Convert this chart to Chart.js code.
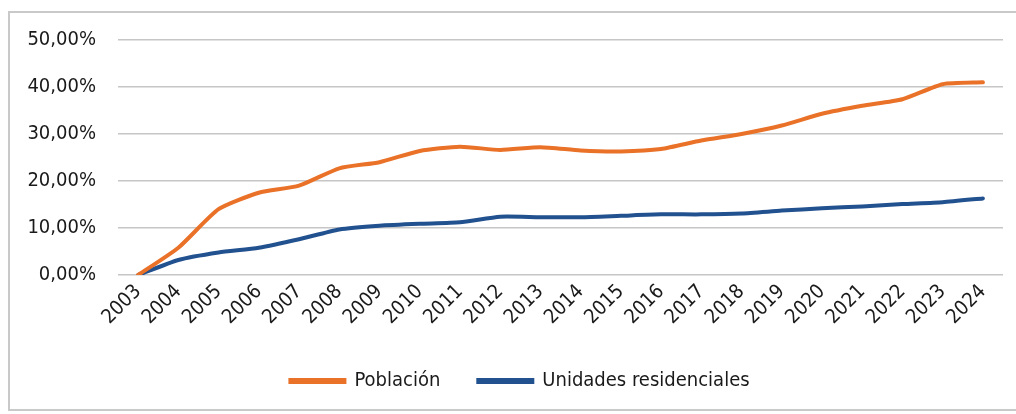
<!DOCTYPE html>
<html>
<head>
<meta charset="utf-8">
<script src="https://cdn.jsdelivr.net/npm/chart.js@4/dist/chart.umd.min.js"></script>
<style>
    html, body { margin: 0; padding: 0; background: #fff; }
    #wrap { position: relative; width: 1016px; height: 414px; }
    #frame {
        position: absolute; left: 8px; top: 11px; width: 1020px; height: 400px;
        border: 2px solid #c9c9c9; box-sizing: border-box;
    }
    canvas { position: absolute; left: 0; top: 0; }
</style>
</head>
<body>
<div id="wrap">
    <div id="frame"></div>
    <canvas id="myChart" width="1016" height="414"></canvas>
</div>
<script>
const years = ['2003', '2004', '2005', '2006', '2007', '2008', '2009', '2010', '2011', '2012', '2013',
    '2014', '2015', '2016', '2017', '2018', '2019', '2020', '2021', '2022', '2023', '2024'];

// crecimiento acumulado respecto a 2003, en %
const poblacion = [0, 5.8, 14.0, 17.5, 19.0, 22.7, 24.0, 26.4, 27.3, 26.6, 27.2,
    26.5, 26.3, 26.8, 28.6, 30.0, 31.8, 34.3, 36.0, 37.4, 40.6, 41.0];
const unidades = [0, 3.2, 4.8, 5.8, 7.6, 9.7, 10.5, 10.9, 11.2, 12.4, 12.3,
    12.3, 12.6, 12.9, 12.9, 13.1, 13.7, 14.2, 14.6, 15.1, 15.5, 16.3];

const yTicks = [0, 10, 20, 30, 40, 50];

const FONT = "'DejaVu Sans Condensed', 'DejaVu Sans', sans-serif";
const ORANGE = '#ea7128';
const BLUE = '#22518f';

function fmtPct(v) {
    return v.toFixed(2).replace('.', ',') + '%';
}

// the y labels are wider than the axis box, don't let them get clipped
const unclipY = {
    id: 'unclipY',
    afterLayout(chart) { chart.scales.y.left = 0; }
};

const ctx = document.getElementById('myChart').getContext('2d');
new Chart(ctx, {
    type: 'line',
    data: {
        labels: years,
        datasets: [
            {
                label: 'Población',
                data: poblacion,
                borderColor: ORANGE,
                backgroundColor: ORANGE,
                borderWidth: 4,
                pointRadius: 0,
                tension: 0.2,
                borderCapStyle: 'round'
            },
            {
                label: 'Unidades residenciales',
                data: unidades,
                borderColor: BLUE,
                backgroundColor: BLUE,
                borderWidth: 4,
                pointRadius: 0,
                tension: 0.2,
                borderCapStyle: 'round'
            }
        ]
    },
    plugins: [unclipY],
    options: {
        responsive: false,
        animation: false,
        layout: { padding: { top: 40, left: 37, right: 13, bottom: 13 } },
        plugins: {
            tooltip: { enabled: false },
            legend: {
                position: 'bottom',
                labels: {
                    color: '#1a1a1a',
                    font: { family: FONT, size: 20 },
                    boxWidth: 54,
                    boxHeight: 2,
                    padding: 38
                }
            }
        },
        scales: {
            x: {
                offset: true,
                grid: { display: false, drawTicks: false },
                border: { display: false },
                ticks: {
                    color: '#1a1a1a',
                    font: { family: FONT, size: 20 },
                    minRotation: 45,
                    maxRotation: 45,
                    padding: 5,
                    autoSkip: false
                },
                afterFit: (scale) => { scale.height = 58; }
            },
            y: {
                min: 0,
                max: 50,
                afterBuildTicks: (scale) => { scale.ticks = yTicks.map(v => ({ value: v })); },
                grid: { color: '#c6c6c6', lineWidth: 1.5, drawTicks: false },
                border: { display: false },
                ticks: {
                    color: '#1a1a1a',
                    font: { family: FONT, size: 20 },
                    padding: 22,
                    callback: (v) => fmtPct(v)
                },
                afterFit: (scale) => { scale.width = 81; }
            }
        }
    }
});
</script>
</body>
</html>
